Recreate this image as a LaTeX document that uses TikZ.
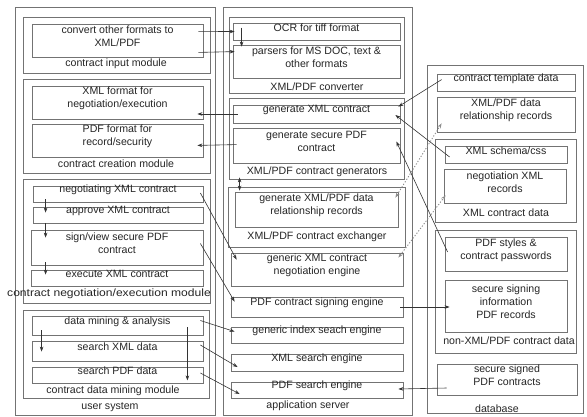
\documentclass[tikz,border=0pt]{standalone}
\usepackage{fontspec}
\usepackage{graphicx}
\setmainfont{Liberation Sans}
\usetikzlibrary{fit,calc,arrows.meta}
\tikzset{
  every node/.style={font=\fontsize{10.6}{13}\selectfont, text=black!85},
  box/.style={draw=black!55, line width=0.8pt, rectangle, inner sep=0pt, align=center},
  lbl/.style={inner sep=0pt, align=center},
  conn/.style={draw=black!80, line width=0.6pt, -{Stealth[length=5pt,width=3.6pt]}},
  bothconn/.style={draw=black!80, line width=0.6pt, {Stealth[length=5pt,width=3.6pt]}-{Stealth[length=5pt,width=3.6pt]}},
  dotconn/.style={draw=black!45, line width=0.9pt, dash pattern=on 1.2pt off 1.8pt, {Stealth[length=5pt,width=3.6pt]}-{Stealth[length=5pt,width=3.6pt]}}
}
% box by its two corners: [options]{name}{x1}{y1}{x2}{y2}{text}
\newcommand\bx[7][]{\node[box,#1,fit={(#3,#4)(#5,#6)}] (#2) {#7};}
\begin{document}
\begin{tikzpicture}[x=1pt,y=-1pt]
\useasboundingbox (0,0) rectangle (587,416);
\fill[white] (0,0) rectangle (587,416);

% ---------------- user system ----------------
\bx{us}{15}{7}{215}{415}{}
\bx{cim}{23}{17}{210}{73}{}
\bx{conv}{32}{24}{203}{57}{convert other formats to\\XML/PDF}
\node[lbl] (cimlbl) at (116,64) {contract input module};

\bx{ccm}{23}{79}{210}{173}{}
\bx{xmlf}{32}{86}{203}{119}{XML format for\\negotiation/execution}
\bx{pdff}{32}{124}{203}{157}{PDF format for\\record/security}
\node[lbl] (ccmlbl) at (116,164) {contract creation module};

\bx{cnem}{23}{179}{210}{303}{}
\bx{neg}{33}{186}{203}{202}{negotiating XML contract}
\bx{appr}{33}{207}{203}{223}{approve XML contract}
\bx{sign}{31}{230}{203}{265}{sign/view secure PDF\\contract}
\bx{exec}{31}{270}{203}{286}{execute XML contract}
\node[lbl] (cnemlbl) at (109,294) {\scalebox{1.14}[1]{contract negotiation/execution module}};

\bx{cdmm}{23}{310}{209}{398}{}
\bx{dma}{32}{316}{203}{335}{data mining \& analysis}
\bx{sxml}{32}{341}{203}{361}{search XML data}
\bx{spdf}{32}{367}{203}{383}{search PDF data}
\node[lbl] (cdmmlbl) at (113,391) {contract data mining module};
\node[lbl] (uslbl) at (110,407) {user system};

% ---------------- application server ----------------
\bx{as}{223}{7}{412}{415}{}
\bx{xpc}{229}{17}{404}{93}{}
\bx{ocr}{233}{23}{400}{40}{OCR for tiff format}
\bx{pars}{233}{45}{400}{78}{parsers for MS DOC, text \&\\other formats}
\node[lbl] (xpclbl) at (317,87) {XML/PDF converter};

\bx{gen}{229}{98}{404}{179}{}
\bx{gxml}{233}{105}{400}{123}{generate XML contract}
\bx{gpdf}{233}{128}{400}{163}{generate secure PDF\\contract}
\node[lbl] (genlbl) at (317,172) {XML/PDF contract generators};

\bx{exch}{228}{187}{405}{247}{}
\bx{grel}{235}{192}{398}{227}{generate XML/PDF data\\relationship records}
\node[lbl] (exchlbl) at (317,237) {XML/PDF contract exchanger};

\bx{gneg}{231}{253}{403}{286}{generic XML contract\\negotiation engine}
\bx{psign}{231}{297}{403}{317}{PDF contract signing engine}
\bx{gidx}{231}{327}{403}{343}{generic index seach engine}
\bx{xse}{231}{354}{403}{371}{XML search engine}
\bx{pse}{231}{382}{403}{398}{PDF search engine}
\node[lbl] (aslbl) at (308,406) {application server};

% ---------------- database ----------------
\bx{db}{427}{65}{583}{413}{}
\bx{ctd}{437}{74}{575}{91}{contract template data}
\bx{rel}{437}{97}{575}{132}{XML/PDF data\\relationship records}
\bx{xcd}{435}{139}{576}{222}{}
\bx{xsc}{445}{146}{567}{163}{XML schema/css}
\bx{nxr}{444}{169}{566}{203}{negotiation XML\\records}
\node[lbl] (xcdlbl) at (506,213) {XML contract data};
\bx{nxp}{435}{230}{576}{353}{}
\bx{pst}{445}{237}{567}{271}{PDF styles \&\\contract passwords}
\bx{ssi}{445}{280}{567}{332}{secure signing\\information\\PDF records}
\node[lbl] (nxplbl) at (509,341) {non-XML/PDF contract data};
\bx{ssp}{437}{364}{577}{395}{secure signed\\PDF contracts}
\node[lbl] (dblbl) at (497,409) {database};

% ---------------- flows inside the user system ----------------
\draw[conn] ($(neg.south west)+(13,-3)$) -- ($(appr.north west)+(13,6)$);
\draw[conn] ($(appr.south west)+(13,0)$) -- ($(sign.north west)+(15,8)$);
\draw[conn] ($(sign.south west)+(15,-3)$) -- ($(exec.north west)+(15,5)$);
\draw[conn] ($(dma.south west)+(10,-5)$) -- ($(sxml.north west)+(10,11)$);
\draw[conn] ($(dma.south east)+(-16,-8)$) -- ($(spdf.south east)+(-16,-3)$);

% ---------------- user system <-> application server ----------------
\draw[conn] ($(conv.north east)+(-5,8)$) -- ($(ocr.west)+(2,0)$);
\draw[conn] ($(conv.south east)+(-5,-5)$) -- ($(pars.north west)+(2,7)$);
\draw[conn] ($(ocr.north west)+(9,5)$) -- ($(pars.north west)+(9,2)$);
\draw[conn] ($(gxml.west)+(5,0)$) -- ($(xmlf.east|-gxml.west)+(-6,0)$);
\draw[conn] ($(gpdf.north west)+(4,17)$) -- ($(pdff.south east)+(-6,-12)$);
\draw[bothconn] ($(gen.south west)+(11,-2)$) -- ($(exch.north west)+(12,4)$);
\draw[conn] ($(neg.east)+(-3,-1)$) -- ($(gneg.north west)+(6,7)$);
\draw[conn] ($(sign.east)+(-3,-4)$) -- ($(psign.north west)+(4,5)$);
\draw[conn] ($(dma.east)+(-3,-5)$) -- ($(gidx.north west)+(4,5)$);
\draw[conn] ($(sxml.east)+(-3,-6)$) -- ($(xse.west)+(7,4.5)$);
\draw[conn] ($(spdf.east)+(-3,-2)$) -- ($(pse.west)+(9,4)$);

% ---------------- application server <-> database ----------------
\draw[conn] ($(ctd.north west)+(5,6)$) -- ($(gxml.north east)+(-2,2)$);
\draw[conn] ($(xsc.west)+(5,2.5)$) -- ($(gxml.east)+(-5,1)$);
\draw[conn] ($(pst.west)+(3,-2)$) -- ($(gpdf.north east)+(-4,14)$);
\draw[dotconn] ($(grel.north east)+(-3,6)$) -- ($(rel.south west)+(5,-9)$);
\draw[dotconn] ($(gneg.north east)+(-5,5)$) -- ($(nxr.south west)+(2,-8)$);
\draw[conn] ($(psign.east)+(-3,0)$) -- ($(ssi.west)+(5,1)$);
\draw[conn] ($(ssp.west)+(10,8.5)$) -- ($(pse.east)+(-5,-1)$);
\end{tikzpicture}
\end{document}
